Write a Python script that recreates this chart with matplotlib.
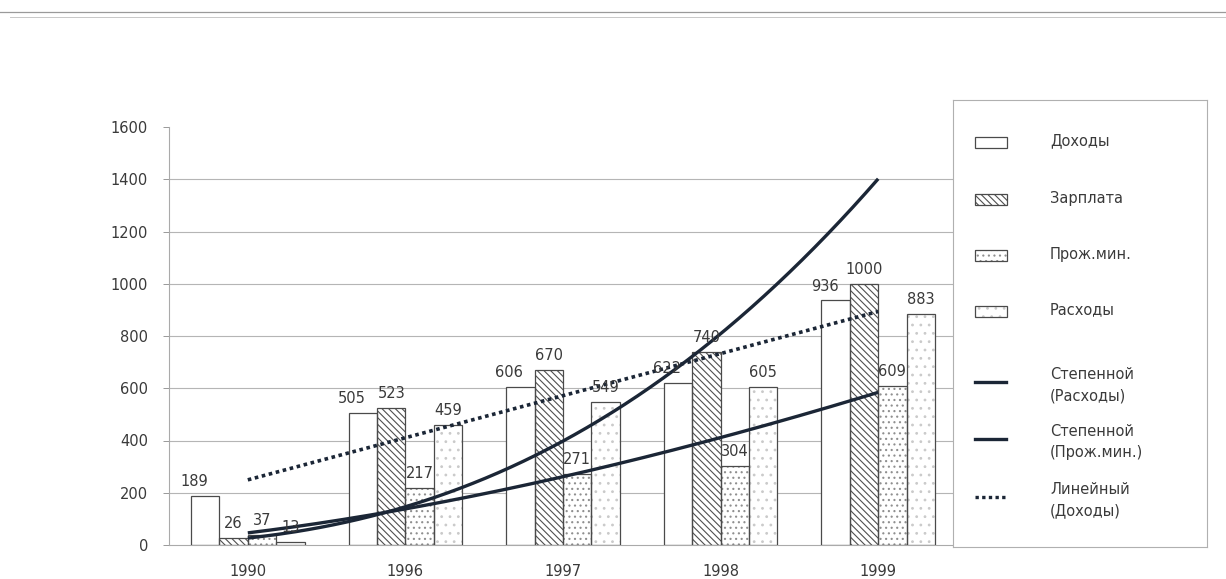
import numpy as np
import matplotlib
matplotlib.use("Agg")
import matplotlib.pyplot as plt
from matplotlib.patches import Rectangle
from matplotlib.lines import Line2D

# ---- data ----
years = ["1990", "1996", "1997", "1998", "1999"]
dohody = [189, 505, 606, 622, 936]
zarplata = [26, 523, 670, 740, 1000]
prozh_min = [37, 217, 271, 304, 609]
rashody = [13, 459, 549, 605, 883]
series_names = ["Доходы", "Зарплата", "Прож.мин.", "Расходы"]
trend_names = ["Степенной\n(Расходы)", "Степенной\n(Прож.мин.)", "Линейный\n(Доходы)"]
y_ticks = [0, 200, 400, 600, 800, 1000, 1200, 1400, 1600]

W, H = 1226, 579
plt.rcParams['font.family'] = ['DejaVu Sans']
fig = plt.figure(figsize=(W / 100, H / 100), dpi=100)
fig.patch.set_facecolor('white')

ax = fig.add_axes([169 / W, 1 - 545 / H, (957 - 169) / W, (545 - 127) / H])
ax.set_xlim(-0.5, len(years) - 0.5)
ax.set_ylim(0, 1600)

txt_col = '#3a3a3a'
edge_col = '#4a4a4a'
line_col = '#1b2636'
fs = 10.5

styles = [
    dict(hatch=None, hcol='#ffffff'),
    dict(hatch='\\\\\\\\\\', hcol='#505050'),
    dict(hatch='...', hcol='#8f8f8f'),
    dict(hatch='..', hcol='#cacaca'),
]
all_series = [dohody, zarplata, prozh_min, rashody]
bw = 0.18
offsets = [-1.5 * bw, -0.5 * bw, 0.5 * bw, 1.5 * bw]
x = np.arange(len(years))

plt.rcParams['hatch.linewidth'] = 0.8
for s_idx, (vals, st, off) in enumerate(zip(all_series, styles, offsets)):
    ax.bar(x + off, vals, width=bw, color='white', edgecolor=st['hcol'],
           hatch=st['hatch'], linewidth=0, zorder=2)
    ax.bar(x + off, vals, width=bw, fill=False, edgecolor=edge_col,
           linewidth=0.9, zorder=3)
    dx = -8 if s_idx == 0 else 0
    for xi, v in zip(x + off, vals):
        ax.annotate(f"{v}", (xi, v), xytext=(dx, 5), textcoords='offset points',
                    ha='center', va='bottom', fontsize=fs, color=txt_col, zorder=6)

# ---- trend lines (fitted from the data, Excel-style x = 1..n) ----
t = x + 1.0
tt = np.linspace(1, len(years), 200)
b_r, a_r = np.polyfit(np.log(t), np.log(rashody), 1)
b_p, a_p = np.polyfit(np.log(t), np.log(prozh_min), 1)
k_d, c_d = np.polyfit(t, dohody, 1)
ax.plot(tt - 1, np.exp(a_r) * tt ** b_r, color=line_col, lw=2.4, zorder=5,
        solid_capstyle='butt')
ax.plot(tt - 1, np.exp(a_p) * tt ** b_p, color=line_col, lw=2.4, zorder=5,
        solid_capstyle='butt')
ax.plot(tt - 1, k_d * tt + c_d, color=line_col, lw=2.6, zorder=5,
        linestyle=(0, (1.0, 1.0)))

# ---- axes styling ----
ax.set_yticks(y_ticks)
ax.set_yticklabels([str(v) for v in y_ticks])
ax.set_xticks(x)
ax.set_xticklabels(years)
ax.tick_params(axis='y', length=4, width=0.7, color='#999999', pad=11,
               labelsize=fs, labelcolor=txt_col)
ax.tick_params(axis='x', length=0, pad=14, labelsize=fs, labelcolor=txt_col)
for v in y_ticks[1:-1]:
    ax.axhline(v, color='#b5b5b5', lw=0.8, zorder=1)
for side in ['top', 'right']:
    ax.spines[side].set_visible(False)
ax.spines['left'].set_color('#aaaaaa')
ax.spines['left'].set_linewidth(0.8)
ax.spines['bottom'].set_color('#aaaaaa')
ax.spines['bottom'].set_linewidth(0.8)

# ---- legend box ----
L, T, R, B = 953, 100, 1207, 547
lax = fig.add_axes([L / W, 1 - B / H, (R - L) / W, (B - T) / H])
lax.set_xlim(L, R)
lax.set_ylim(B, T)
lax.set_xticks([])
lax.set_yticks([])
for sp in lax.spines.values():
    sp.set_color('#b0b0b0')
    sp.set_linewidth(0.8)
lax.set_facecolor('white')

patch_y = [143, 200, 256, 312]
for name, st, yy in zip(series_names, styles, patch_y):
    lax.add_patch(Rectangle((975, yy - 6), 32, 11, facecolor='white',
                            edgecolor=st['hcol'], hatch=st['hatch'], linewidth=0))
    lax.add_patch(Rectangle((975, yy - 6), 32, 11, fill=False,
                            edgecolor=edge_col, linewidth=0.9))
    lax.text(1050, yy - 2, name, va='center', ha='left', fontsize=fs, color=txt_col)

trend_y = [385, 442, 500]
trend_ls = ['-', '-', (0, (1.0, 1.0))]
for name, yy, ls in zip(trend_names, trend_y, trend_ls):
    lax.plot([975, 1006], [yy - 3, yy - 3], color=line_col, lw=2.4, linestyle=ls)
    lax.text(1050, yy, name, va='center', ha='left', fontsize=fs, color=txt_col,
             linespacing=1.55)

# ---- scan border lines at the top ----
fig.add_artist(Line2D([0, 1], [1 - 12 / H, 1 - 12 / H], transform=fig.transFigure,
                      color='#9a9a9a', lw=0.9))
fig.add_artist(Line2D([0.008, 1], [1 - 17 / H, 1 - 17 / H], transform=fig.transFigure,
                      color='#c8c8c8', lw=0.7))

fig.savefig("out.png", dpi=100)
